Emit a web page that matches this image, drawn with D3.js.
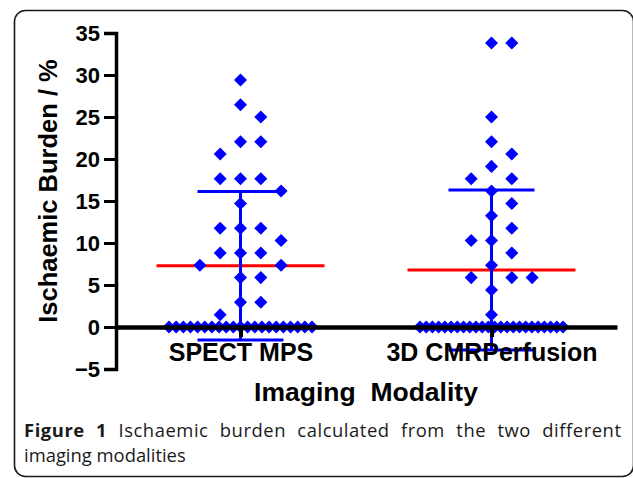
<!DOCTYPE html>
<html>
<head>
<meta charset="utf-8">
<script src="https://cdn.jsdelivr.net/npm/d3@7"></script>
<style>
  html, body { margin: 0; padding: 0; background: #fff; overflow: hidden; }
  svg { display: block; }
</style>
</head>
<body>
<script>
// ---------------- DATA ----------------
const categories = ["SPECT MPS", "3D CMRPerfusion"];

// Ischaemic burden (%) per patient
const spectValues = [
  29.41, 26.47, 25.00, 22.06, 22.06, 20.59, 17.65, 17.65, 17.65, 16.18, 14.71,
  11.76, 11.76, 11.76, 10.29, 8.82, 8.82, 8.82, 7.35, 7.35, 5.88, 5.88,
  2.94, 2.94, 1.47,
  0, 0, 0, 0, 0, 0, 0, 0, 0, 0, 0, 0, 0, 0, 0, 0, 0, 0, 0, 0, 0
];
const cmrValues = [
  33.82, 33.82, 25.00, 22.06, 20.59, 19.12, 17.65, 17.65, 16.18, 14.71, 13.24,
  11.76, 10.29, 10.29, 8.82, 7.35, 5.88, 5.88, 5.88, 4.41, 1.47,
  0, 0, 0, 0, 0, 0, 0, 0, 0, 0, 0, 0, 0, 0, 0, 0, 0, 0, 0, 0, 0, 0, 0, 0
];
const seriesValues = [spectValues, cmrValues];
const yTickValues = [-5, 0, 5, 10, 15, 20, 25, 30, 35];

const yTitle = "Ischaemic Burden / %";
const xTitle = "Imaging  Modality";
const captionBold = "Figure 1";
const captionLine1 = "Ischaemic burden calculated from the two different";
const captionLine2 = "imaging modalities";

// ---------------- LAYOUT ----------------
const W = 633, H = 478;
const svg = d3.select("body").append("svg").attr("width", W).attr("height", H);
const FONT = "Arial, 'Liberation Sans', sans-serif";
const BLUE = "#0000ff", RED = "#ff0000";

// frame
svg.append("rect")
  .attr("x", 14.5).attr("y", 10.5).attr("width", 619).attr("height", 466)
  .attr("rx", 11).attr("ry", 11)
  .attr("fill", "none").attr("stroke", "#1a1a1a").attr("stroke-width", 1.6);

const y = d3.scaleLinear().domain([-5, 35]).range([369, 33]);
const x = d3.scalePoint().domain(categories).range([115, 617]).padding(0.5);

// beeswarm-like column layout (slots), computed from values
const slotW = 20.3, maxRowW = 143, collidePx = 14;
function layout(values) {
  const groups = d3.groups(values, v => v).sort((a, b) => b[0] - a[0]);
  const placed = [];
  const out = [];
  const pref = [0, 1, -1, 2, -2, 3, -3, 4, -4];
  for (const [v, arr] of groups) {
    const n = arr.length;
    if ((n - 1) * slotW > maxRowW) {
      const sp = maxRowW / (n - 1);
      arr.forEach((d, i) => out.push({ v, dx: (i - (n - 1) / 2) * sp }));
      continue;
    }
    const rowPlaced = [];
    for (let i = 0; i < n; i++) {
      for (const s of pref) {
        const hit = placed.some(p => p.s === s && Math.abs(y(p.v) - y(v)) < collidePx) ||
                    rowPlaced.includes(s);
        if (!hit) { rowPlaced.push(s); break; }
      }
    }
    rowPlaced.forEach(s => { placed.push({ v, s }); out.push({ v, dx: s * slotW }); });
  }
  return out;
}

const plot = svg.append("g");

categories.forEach((c, ci) => {
  const vals = seriesValues[ci];
  const m = d3.mean(vals), sd = d3.deviation(vals);
  const cx = x(c);
  plot.append("line")
    .attr("x1", cx - 84).attr("x2", cx + 84)
    .attr("y1", y(m)).attr("y2", y(m))
    .attr("stroke", RED).attr("stroke-width", 3);
  const g = plot.append("g").attr("stroke", BLUE).attr("stroke-width", 3);
  g.append("line").attr("x1", cx).attr("x2", cx).attr("y1", y(m - sd)).attr("y2", y(m + sd));
  g.append("line").attr("x1", cx - 43).attr("x2", cx + 43).attr("y1", y(m + sd)).attr("y2", y(m + sd));
  g.append("line").attr("x1", cx - 43).attr("x2", cx + 43).attr("y1", y(m - sd)).attr("y2", y(m - sd));
  const sym = d3.symbol(d3.symbolSquare, 85);
  plot.append("g").selectAll("path").data(layout(vals)).join("path")
    .attr("d", sym)
    .attr("transform", d => `translate(${cx + d.dx},${y(d.v)}) rotate(45)`)
    .attr("fill", BLUE);
});

// Y axis
const yAxis = svg.append("g").attr("transform", "translate(116,0)")
  .call(d3.axisLeft(y).tickValues(yTickValues).tickSize(12).tickSizeOuter(12).tickPadding(4));
yAxis.select(".domain").attr("stroke", "#000").attr("stroke-width", 3.5);
yAxis.selectAll(".tick line").attr("stroke", "#000").attr("stroke-width", 3);
yAxis.selectAll(".tick text")
  .attr("font-family", FONT).attr("font-size", 22).attr("font-weight", "bold").attr("fill", "#000");

// X axis at y = 0
const xAxis = svg.append("g").attr("transform", `translate(0,${y(0)})`)
  .call(d3.axisBottom(x).tickSize(10).tickSizeOuter(0));
xAxis.select(".domain").attr("stroke", "#000").attr("stroke-width", 4.5);
xAxis.selectAll(".tick line").attr("stroke", "#000").attr("stroke-width", 4);
xAxis.selectAll(".tick text")
  .attr("y", 34).attr("dy", 0)
  .attr("font-family", FONT).attr("font-size", 25).attr("font-weight", "bold").attr("fill", "#000");

// titles
svg.append("text")
  .attr("transform", "translate(57,191) rotate(-90)")
  .attr("text-anchor", "middle")
  .attr("font-family", FONT).attr("font-size", 25.5).attr("font-weight", "bold")
  .text(yTitle);

svg.append("text")
  .attr("x", 366).attr("y", 401)
  .attr("text-anchor", "middle")
  .style("white-space", "pre")
  .attr("font-family", FONT).attr("font-size", 26.5).attr("font-weight", "bold")
  .text(xTitle);

// caption: first line justified to the full width
const CAP_FONT = "'Open Sans', 'Noto Sans', sans-serif";
const capSize = 18.4;
const left = 24, right = 621;
const l1 = svg.append("text")
  .attr("x", left).attr("y", 437)
  .attr("font-family", CAP_FONT).attr("font-size", capSize)
  .attr("fill", "#1a1a1a")
  .style("white-space", "pre");
l1.append("tspan").attr("font-weight", "bold").text(captionBold);
l1.append("tspan").text(" " + captionLine1);
const full = captionBold + " " + captionLine1;
const natural = l1.node().getComputedTextLength();
const nChars = full.length;
const nSpaces = full.split(" ").length - 1;
const extra = Math.max(0, right - left - natural);
l1.style("word-spacing", (extra * 0.6 / nSpaces) + "px")
  .style("letter-spacing", (extra * 0.4 / (nChars - 1)) + "px");

svg.append("text")
  .attr("x", left).attr("y", 462)
  .attr("font-family", CAP_FONT).attr("font-size", capSize)
  .attr("fill", "#1a1a1a")
  .text(captionLine2);
</script>
</body>
</html>
